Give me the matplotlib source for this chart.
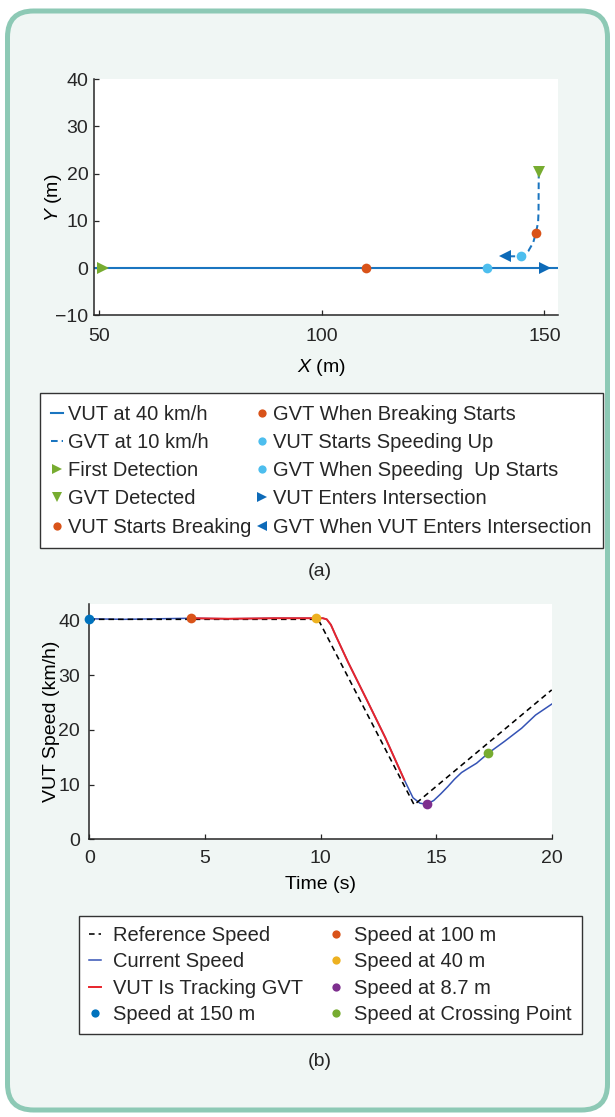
import matplotlib.pyplot as plt
import matplotlib.patches as mpatches
import matplotlib.transforms as mtransforms

plt.rcParams['font.family'] = ['Liberation Sans', 'DejaVu Sans']
plt.rcParams['mathtext.fontset'] = 'custom'
plt.rcParams['mathtext.rm'] = 'Liberation Sans'
plt.rcParams['mathtext.it'] = 'Liberation Sans:italic'
plt.rcParams['text.color'] = '#262626'

# ---- (a) trajectories ----
vut_x = [49, 153]
vut_y = [0, 0]
gvt_x = [148.75, 148.7, 148.6, 148.1, 147.5, 146.4, 145.5, 144.8, 143.0, 141.2]
gvt_y = [20.4, 12.0, 9.7, 7.4, 5.4, 3.6, 2.9, 2.5, 2.5, 2.5]

event_labels = ['First Detection', 'GVT Detected', 'VUT Starts Breaking',
                'GVT When Breaking Starts', 'VUT Starts Speeding Up',
                'GVT When Speeding  Up Starts', 'VUT Enters Intersection',
                'GVT When VUT Enters Intersection']
event_x = [51.0, 148.75, 109.9, 148.1, 137.1, 144.8, 150.2, 141.2]
event_y = [0, 20.4, 0, 7.4, 0, 2.5, 0, 2.5]
event_markers = ['>', 'v', 'o', 'o', 'o', 'o', '>', '<']
event_colors = ['#77ac30', '#77ac30', '#d95319', '#d95319',
                '#4dbeee', '#4dbeee', '#0d6ab8', '#0d6ab8']

# ---- (b) speed profile ----
t_ref = [0, 9.9, 14.05, 20]
v_ref = [40.2, 40.2, 6.3, 27.3]
t_cur = [0, 1.5, 3.0, 4.42, 6.0, 8.0, 10.1, 10.27, 10.45, 10.65, 11.2, 12.0,
         12.8, 13.62, 14.0, 14.3, 14.59, 14.9, 15.2, 15.5, 15.8, 16.1, 16.4,
         16.75, 17.26, 17.96, 18.7, 19.3, 20]
v_cur = [40.3, 40.2, 40.3, 40.4, 40.3, 40.4, 40.4, 40.2, 39.2, 37.3, 32.3, 25.5,
         18.6, 10.9, 7.6, 6.6, 6.4, 7.1, 8.3, 9.6, 11.0, 12.2, 13.0,
         13.9, 15.75, 17.9, 20.3, 22.7, 24.7]
track_start, track_end = 4.42, 13.62
point_labels = ['Speed at 150 m', 'Speed at 100 m', 'Speed at 40 m',
                'Speed at 8.7 m', 'Speed at Crossing Point']
point_t = [0, 4.42, 9.8, 14.59, 17.26]
point_v = [40.3, 40.4, 40.4, 6.5, 15.75]
point_colors = ['#0072bd', '#d95319', '#edb120', '#7e2f8e', '#77ac30']

W, H = 615, 1117
fig = plt.figure(figsize=(W / 100, H / 100), dpi=100, facecolor='white')

frame = mpatches.FancyBboxPatch((7.5, 7), 600, 1099,
                                boxstyle='round,pad=0,rounding_size=26',
                                transform=mtransforms.IdentityTransform(),
                                facecolor='#f0f6f4', edgecolor='#8dc9b5',
                                linewidth=3.6, zorder=-1)
fig.add_artist(frame)


def style_axes(ax, xpad, ypad):
    for s in ['top', 'right']:
        ax.spines[s].set_visible(False)
    for s in ['left', 'bottom']:
        ax.spines[s].set_color('#262626')
        ax.spines[s].set_linewidth(1.1)
    ax.tick_params(direction='in', length=3.5, width=0.9, colors='#262626',
                   labelsize=14)
    ax.tick_params(axis='x', pad=xpad)
    ax.tick_params(axis='y', pad=ypad)
    ax.set_facecolor('white')


# top axes
ax1 = fig.add_axes([94.3 / W, 1 - 315.3 / H, 463.4 / W, 236 / H])
style_axes(ax1, 9.5, 4.3)
h_vut, = ax1.plot(vut_x, vut_y, color='#1a75c0', lw=1.5, label='VUT at 40 km/h')
h_gvt, = ax1.plot(gvt_x, gvt_y, color='#1a75c0', lw=1.45,
                  linestyle=(0, (3.3, 2.0)), label='GVT at 10 km/h')
handles_a = [h_vut, h_gvt]
for lab, x, y, m, c in zip(event_labels, event_x, event_y, event_markers, event_colors):
    ms = 7 if m == 'o' else 8
    h, = ax1.plot([x], [y], linestyle='none', marker=m, color=c, markersize=ms,
                  markeredgewidth=0, clip_on=False, zorder=5, label=lab)
    handles_a.append(h)
ax1.set_xlim(49, 153)
ax1.set_ylim(-10, 40)
ax1.set_xticks([50, 100, 150])
ax1.set_yticks([-10, 0, 10, 20, 30, 40])
ax1.set_xlabel('$X$ (m)', fontsize=14)
ax1.set_ylabel('$Y$ (m)', fontsize=14)
ax1.xaxis.set_label_coords(0.49, -0.175)
ax1.yaxis.set_label_coords(-0.066, 0.5)

fig.legend(handles=handles_a, ncol=2, loc='upper left',
           bbox_to_anchor=(40 / W, 1 - 393.3 / H, 563 / W, 0),
           bbox_transform=fig.transFigure, mode='expand', borderaxespad=0,
           fontsize=14.5, frameon=True, fancybox=False, edgecolor='#333333',
           framealpha=1, handlelength=0.6, handletextpad=0.25,
           labelspacing=0.46, borderpad=0.56, columnspacing=0.5,
           markerscale=0.85)
fig.text(320 / W, 1 - 572 / H, '(a)', ha='center', va='center', fontsize=14)

# bottom axes
ax2 = fig.add_axes([89.3 / W, 1 - 839.3 / H, 462.4 / W, 235.3 / H])
style_axes(ax2, 7.5, 6.7)
h_ref, = ax2.plot(t_ref, v_ref, color='black', lw=1.15,
                  linestyle=(0, (3.5, 2.5)), label='Reference Speed', zorder=3)
h_cur, = ax2.plot(t_cur, v_cur, color='#3553b5', lw=1.1,
                  label='Current Speed', zorder=2)
t_trk = [t for t in t_cur if track_start <= t <= track_end]
v_trk = [v for t, v in zip(t_cur, v_cur) if track_start <= t <= track_end]
h_trk, = ax2.plot(t_trk, v_trk, color='#e8242b', lw=1.4,
                  label='VUT Is Tracking GVT', zorder=4)
handles_b = [h_ref, h_cur, h_trk]
for lab, t, v, c in zip(point_labels, point_t, point_v, point_colors):
    h, = ax2.plot([t], [v], linestyle='none', marker='o', color=c,
                  markersize=7, markeredgewidth=0, clip_on=False, zorder=6,
                  label=lab)
    handles_b.append(h)
ax2.set_xlim(0, 20)
ax2.set_ylim(0, 43)
ax2.set_xticks([0, 5, 10, 15, 20])
ax2.set_yticks([0, 10, 20, 30, 40])
ax2.set_xlabel('Time (s)', fontsize=14)
ax2.set_ylabel('VUT Speed (km/h)', fontsize=14)
ax2.xaxis.set_label_coords(0.5, -0.155)
ax2.yaxis.set_label_coords(-0.063, 0.5)

fig.legend(handles=handles_b, ncol=2, loc='upper left',
           bbox_to_anchor=(78.6 / W, 1 - 915.7 / H, 503.4 / W, 0),
           bbox_transform=fig.transFigure, mode='expand', borderaxespad=0,
           fontsize=14.5, frameon=True, fancybox=False, edgecolor='#333333',
           framealpha=1, handlelength=0.6, handletextpad=0.6,
           labelspacing=0.37, borderpad=0.5, columnspacing=0.8,
           markerscale=0.85)
fig.text(320 / W, 1 - 1062 / H, '(b)', ha='center', va='center', fontsize=14)

fig.savefig('out.png', dpi=100, facecolor='white')
